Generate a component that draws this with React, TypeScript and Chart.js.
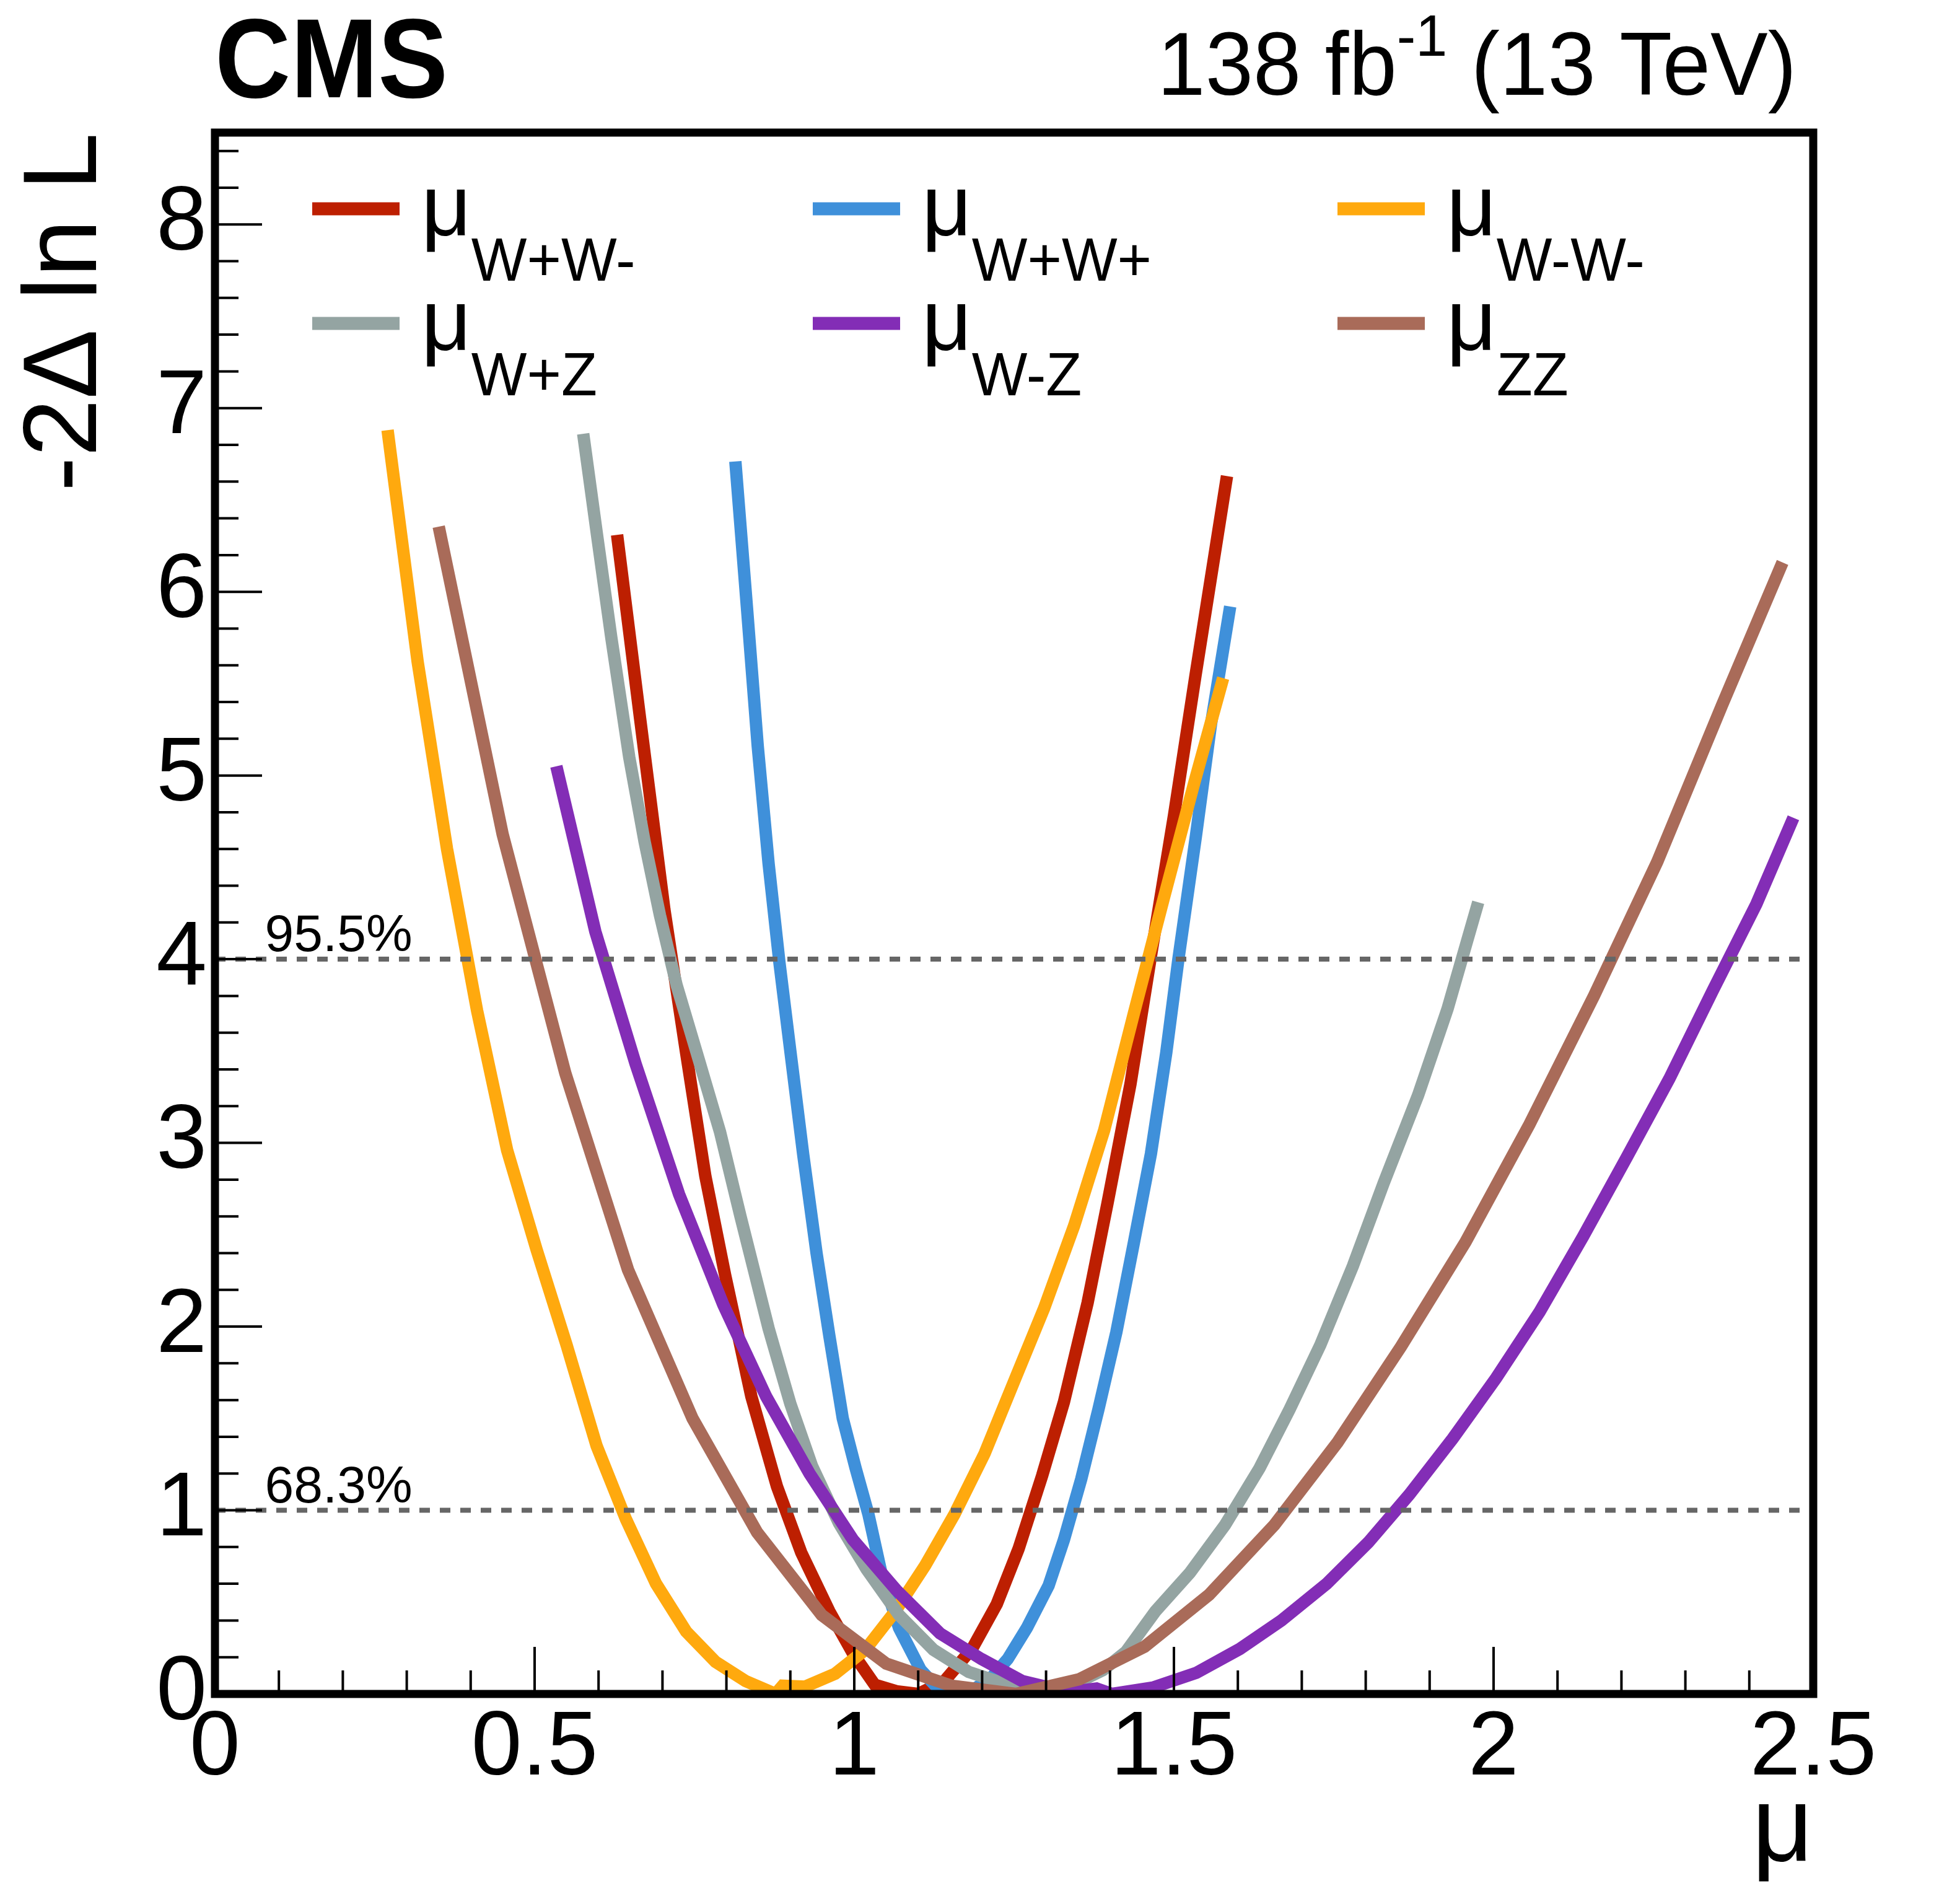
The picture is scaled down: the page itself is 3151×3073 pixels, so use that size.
import React, { useEffect, useRef } from "react";
import { Chart, registerables } from "chart.js";

Chart.register(...registerables);

const W = 3151;
const H = 3073;
const FONT = '"Liberation Sans", Arial, Helvetica, sans-serif';

// ---- axis ticks ----
const xMajorTicks = [0, 0.5, 1, 1.5, 2, 2.5];
const xTickLabels = ["0", "0.5", "1", "1.5", "2", "2.5"];
const xMinorTicks = [0.1, 0.2, 0.3, 0.4, 0.6, 0.7, 0.8, 0.9, 1.1, 1.2, 1.3, 1.4, 1.6, 1.7, 1.8, 1.9, 2.1, 2.2, 2.3, 2.4];
const yMajorTicks = [0, 1, 2, 3, 4, 5, 6, 7, 8];
const yTickLabels = ["0", "1", "2", "3", "4", "5", "6", "7", "8"];
const yMinorTicks = [
  0.2, 0.4, 0.6, 0.8, 1.2, 1.4, 1.6, 1.8, 2.2, 2.4, 2.6, 2.8, 3.2, 3.4, 3.6, 3.8,
  4.2, 4.4, 4.6, 4.8, 5.2, 5.4, 5.6, 5.8, 6.2, 6.4, 6.6, 6.8, 7.2, 7.4, 7.6, 7.8, 8.2, 8.4,
];

// ---- confidence levels ----
const clLevels = [1, 4];
const clLabels = ["68.3%", "95.5%"];

// ---- series ----
const seriesSubs = ["W+W-", "W+W+", "W-W-", "W+Z", "W-Z", "ZZ"];
const seriesColors = ["#bd1f01", "#3f90da", "#ffa90e", "#94a4a2", "#832db6", "#a96b59"];

const muWpWm = [0.629, 0.665, 0.703, 0.737, 0.767, 0.798, 0.839, 0.879, 0.917, 0.961, 0.998, 1.032, 1.066, 1.1, 1.141, 1.185, 1.223, 1.257, 1.294, 1.328, 1.365, 1.396, 1.432, 1.466, 1.5, 1.534, 1.583];
const nllWpWm = [6.31, 5.31, 4.27, 3.49, 2.82, 2.28, 1.62, 1.13, 0.77, 0.45, 0.22, 0.05, 0.015, 0.0, 0.07, 0.25, 0.49, 0.79, 1.19, 1.59, 2.13, 2.67, 3.32, 4.06, 4.78, 5.55, 6.63];

const muWpWp = [0.814, 0.832, 0.849, 0.866, 0.883, 0.9, 0.92, 0.941, 0.961, 0.982, 1.002, 1.022, 1.043, 1.07, 1.104, 1.131, 1.158, 1.185, 1.215, 1.24, 1.27, 1.304, 1.328, 1.355, 1.382, 1.41, 1.437, 1.464, 1.488, 1.507, 1.534, 1.558, 1.588];
const nllWpWp = [6.71, 5.92, 5.16, 4.52, 3.98, 3.5, 2.94, 2.4, 1.95, 1.5, 1.23, 0.98, 0.65, 0.36, 0.13, 0.03, 0.0, 0.02, 0.09, 0.19, 0.36, 0.59, 0.84, 1.17, 1.55, 1.97, 2.45, 2.94, 3.49, 4.0, 4.66, 5.28, 5.92];

const muWmWm = [0.27, 0.317, 0.363, 0.41, 0.457, 0.503, 0.55, 0.597, 0.643, 0.69, 0.737, 0.783, 0.83, 0.877, 0.888, 0.923, 0.97, 1.017, 1.064, 1.111, 1.157, 1.204, 1.251, 1.297, 1.344, 1.391, 1.437, 1.484, 1.531, 1.577];
const nllWmWm = [6.88, 5.62, 4.6, 3.72, 2.96, 2.42, 1.9, 1.35, 0.95, 0.6, 0.34, 0.175, 0.07, 0.0, 0.045, 0.04, 0.11, 0.24, 0.45, 0.7, 0.98, 1.31, 1.71, 2.1, 2.55, 3.07, 3.7, 4.33, 4.95, 5.53];

const muWpZ = [0.576, 0.598, 0.62, 0.648, 0.672, 0.696, 0.722, 0.757, 0.79, 0.822, 0.866, 0.9, 0.934, 0.976, 1.019, 1.07, 1.124, 1.179, 1.24, 1.274, 1.321, 1.348, 1.389, 1.425, 1.471, 1.525, 1.58, 1.634, 1.681, 1.729, 1.78, 1.828, 1.882, 1.928, 1.976];
const nllWpZ = [6.86, 6.3, 5.75, 5.1, 4.64, 4.24, 3.86, 3.45, 3.06, 2.6, 1.99, 1.58, 1.24, 0.93, 0.68, 0.43, 0.24, 0.12, 0.05, 0.0, 0.02, 0.06, 0.13, 0.23, 0.45, 0.66, 0.92, 1.23, 1.55, 1.9, 2.33, 2.78, 3.26, 3.73, 4.31];

const muWmZ = [0.534, 0.595, 0.658, 0.726, 0.795, 0.862, 0.93, 0.998, 1.066, 1.134, 1.199, 1.263, 1.335, 1.379, 1.403, 1.467, 1.535, 1.603, 1.668, 1.739, 1.804, 1.868, 1.936, 2.004, 2.072, 2.14, 2.208, 2.275, 2.343, 2.411, 2.469];
const nllWmZ = [5.05, 4.15, 3.43, 2.72, 2.12, 1.62, 1.2, 0.84, 0.565, 0.33, 0.19, 0.07, 0.01, 0.03, 0.0, 0.035, 0.115, 0.245, 0.4, 0.6, 0.825, 1.085, 1.39, 1.72, 2.08, 2.49, 2.92, 3.35, 3.83, 4.3, 4.77];

const muZZ = [0.35, 0.45, 0.548, 0.646, 0.747, 0.848, 0.949, 1.05, 1.152, 1.253, 1.352, 1.454, 1.555, 1.657, 1.756, 1.855, 1.956, 2.056, 2.157, 2.256, 2.357, 2.452];
const nllZZ = [6.355, 4.68, 3.38, 2.31, 1.5, 0.88, 0.43, 0.165, 0.045, 0.0, 0.08, 0.257, 0.54, 0.92, 1.37, 1.89, 2.46, 3.1, 3.8, 4.53, 5.38, 6.16];

const seriesMu = [muWpWm, muWpWp, muWmWm, muWpZ, muWmZ, muZZ];
const seriesNll = [nllWpWm, nllWpWp, nllWmWm, nllWpZ, nllWmZ, nllZZ];

function condensedText(ctx: any, text: string, x: number, y: number, sx: number) {
  ctx.save();
  ctx.translate(x, y);
  ctx.scale(sx, 1);
  ctx.fillText(text, 0, 0);
  ctx.restore();
}

const decorPlugin = {
  id: "decor",
  afterDraw(chart: any) {
    const { ctx, chartArea: ca, scales } = chart;
    const xs = scales.x;
    const ys = scales.y;
    ctx.save();

    // dashed confidence-level lines
    ctx.strokeStyle = "#666666";
    ctx.lineWidth = 8;
    ctx.setLineDash([17, 16]);
    clLevels.forEach((lvl) => {
      const y = ys.getPixelForValue(lvl);
      ctx.beginPath();
      ctx.moveTo(ca.left, y);
      ctx.lineTo(ca.right, y);
      ctx.stroke();
    });
    ctx.setLineDash([]);
    ctx.fillStyle = "#000";
    ctx.font = `84px ${FONT}`;
    ctx.textAlign = "left";
    ctx.textBaseline = "alphabetic";
    clLevels.forEach((lvl, i) => {
      ctx.fillText(clLabels[i], xs.getPixelForValue(0.078), ys.getPixelForValue(lvl) - 13);
    });

    // ticks (inward, left & bottom)
    ctx.strokeStyle = "#000";
    ctx.lineWidth = 4;
    ctx.beginPath();
    yMajorTicks.forEach((v) => {
      const y = ys.getPixelForValue(v);
      ctx.moveTo(ca.left, y);
      ctx.lineTo(ca.left + 76, y);
    });
    yMinorTicks.forEach((v) => {
      const y = ys.getPixelForValue(v);
      ctx.moveTo(ca.left, y);
      ctx.lineTo(ca.left + 38, y);
    });
    xMajorTicks.forEach((v) => {
      const x = xs.getPixelForValue(v);
      ctx.moveTo(x, ca.bottom);
      ctx.lineTo(x, ca.bottom - 76);
    });
    xMinorTicks.forEach((v) => {
      const x = xs.getPixelForValue(v);
      ctx.moveTo(x, ca.bottom);
      ctx.lineTo(x, ca.bottom - 38);
    });
    ctx.stroke();

    // frame
    ctx.lineWidth = 13;
    ctx.strokeRect(ca.left, ca.top, ca.right - ca.left, ca.bottom - ca.top);

    // legend
    const cols = [504, 1312, 2159];
    const rows = [337, 522];
    seriesSubs.forEach((sub, i) => {
      const cx = cols[i % 3];
      const cy = rows[Math.floor(i / 3)];
      ctx.strokeStyle = seriesColors[i];
      ctx.lineWidth = 21;
      ctx.beginPath();
      ctx.moveTo(cx, cy);
      ctx.lineTo(cx + 141, cy);
      ctx.stroke();
      ctx.fillStyle = "#000";
      ctx.font = `140px ${FONT}`;
      const mx = cx + 176;
      ctx.fillText("μ", mx, cy + 43);
      const mw = ctx.measureText("μ").width;
      ctx.font = `98px ${FONT}`;
      condensedText(ctx, sub, mx + mw, cy + 116, 0.97);
    });

    // CMS label
    ctx.fillStyle = "#000";
    ctx.font = `bold 182px ${FONT}`;
    ctx.textAlign = "left";
    condensedText(ctx, "CMS", ca.left, 157, 0.93);

    // luminosity label, right aligned
    const sx = 0.965;
    const part1 = "138 fb";
    const sup = "-1";
    const part2 = " (13 TeV)";
    ctx.font = `144px ${FONT}`;
    const w1 = ctx.measureText(part1).width * sx;
    const w3 = ctx.measureText(part2).width * sx;
    ctx.font = `95px ${FONT}`;
    const w2 = ctx.measureText(sup).width * sx;
    const right = 2900;
    const x0 = right - (w1 + w2 + w3);
    ctx.font = `144px ${FONT}`;
    condensedText(ctx, part1, x0, 153, sx);
    condensedText(ctx, part2, x0 + w1 + w2, 153, sx);
    ctx.font = `95px ${FONT}`;
    condensedText(ctx, sup, x0 + w1, 90, sx);

    ctx.restore();
  },
};

export default function App() {
  const ref = useRef<HTMLCanvasElement | null>(null);

  useEffect(() => {
    if (!ref.current) return;
    const datasets = seriesSubs.map((sub, i) => ({
      label: "μ " + sub,
      data: seriesMu[i].map((m, k) => ({ x: m, y: seriesNll[i][k] })),
      borderColor: seriesColors[i],
      backgroundColor: seriesColors[i],
      borderWidth: 20,
      pointRadius: 0,
      tension: 0,
      fill: false,
      order: 6 - i,
    }));
    const chart = new Chart(ref.current, {
      type: "line",
      data: { datasets },
      options: {
        animation: false,
        responsive: false,
        devicePixelRatio: 1,
        events: [],
        layout: { padding: { left: 0, right: 224, top: 214, bottom: 0 } },
        plugins: { legend: { display: false }, tooltip: { enabled: false } },
        scales: {
          x: {
            type: "linear",
            min: 0,
            max: 2.5,
            afterBuildTicks: (s: any) => {
              s.ticks = xMajorTicks.map((v) => ({ value: v }));
            },
            afterFit: (s: any) => {
              s.height = H - 2734;
            },
            grid: { display: false, drawTicks: false, tickLength: 0 },
            border: { display: false },
            ticks: {
              color: "#000",
              font: { family: FONT, size: 147 },
              padding: 1,
              maxRotation: 0,
              autoSkip: false,
              callback: (_v: any, i: number) => xTickLabels[i],
            },
            title: {
              display: true,
              text: "μ",
              align: "end",
              color: "#000",
              font: { family: FONT, size: 172 },
              padding: { top: 0, bottom: 14 },
            },
          },
          y: {
            type: "linear",
            min: 0,
            max: 8.5,
            afterBuildTicks: (s: any) => {
              s.ticks = yMajorTicks.map((v) => ({ value: v }));
            },
            afterFit: (s: any) => {
              s.width = 347;
            },
            grid: { display: false, drawTicks: false, tickLength: 0 },
            border: { display: false },
            ticks: {
              color: "#000",
              font: { family: FONT, size: 147 },
              padding: 13,
              autoSkip: false,
              callback: (_v: any, i: number) => yTickLabels[i],
            },
            title: {
              display: true,
              text: "-2Δ ln L",
              align: "end",
              color: "#000",
              font: { family: FONT, size: 168 },
              padding: { top: 8, bottom: 0 },
            },
          },
        },
      },
      plugins: [decorPlugin],
    } as any);
    return () => chart.destroy();
  }, []);

  return (
    <div style={{ position: "fixed", left: 0, top: 0, width: W, height: H, background: "#fff" }}>
      <canvas ref={ref} width={W} height={H} style={{ width: W, height: H, display: "block" }} />
    </div>
  );
}
